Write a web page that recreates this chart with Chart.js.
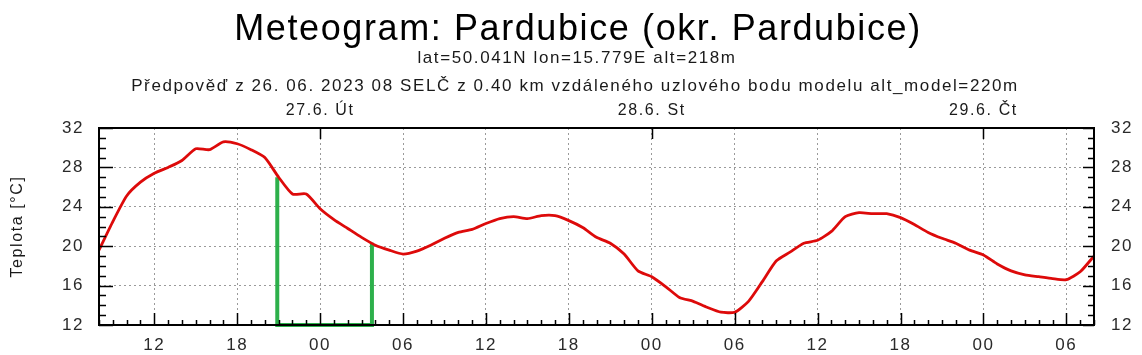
<!DOCTYPE html>
<html>
<head>
<meta charset="utf-8">
<script src="https://cdn.jsdelivr.net/npm/chart.js@4.4.0/dist/chart.umd.min.js"></script>
<style>
  html, body { margin: 0; padding: 0; background: #fff; }
  #wrap { width: 1142px; height: 355px; }
</style>
</head>
<body>
<div id="wrap"><canvas id="c" width="1142" height="355"></canvas></div>
<script>
// ---- DATA ----
// hours since 26.6.2023 08:00
const hours = [0,1,2,3,4,5,6,7,8,9,10,11,12,13,14,15,16,17,18,19,20,21,22,23,24,
  25,26,27,28,29,30,31,32,33,34,35,36,37,38,39,40,41,42,43,44,45,46,47,48,
  49,50,51,52,53,54,55,56,57,58,59,60,61,62,63,64,65,66,67,68,69,70,71,72];
const temps = [19.6,22.5,25.1,26.5,27.4,28.0,28.7,29.9,29.8,30.6,30.4,29.8,29.0,27.0,25.3,25.3,23.8,22.7,21.8,20.9,20.1,19.6,19.2,19.5,20.1,
  20.8,21.4,21.7,22.3,22.8,23.0,22.8,23.1,23.1,22.6,21.9,20.9,20.3,19.2,17.5,16.9,15.9,14.8,14.4,13.8,13.3,13.3,14.4,16.4,
  18.5,19.4,20.3,20.6,21.5,23.0,23.4,23.3,23.3,22.9,22.2,21.4,20.8,20.3,19.6,19.1,18.2,17.5,17.1,16.9,16.7,16.6,17.4,19.0];
// green bracket
const bracketX = [12.9, 12.9, 19.75, 19.75];
const bracketY = [27.0, 12, 12, 20.35];
// axes
const startHour = 8;
const hourTicks = [4,10,16,22,28,34,40,46,52,58,64,70];
const dayTicks = [16,40,64];
const dayLabels = ['27.6. Út','28.6. St','29.6. Čt'];
const yTicks = [12,16,20,24,28,32];
const titleText = 'Meteogram: Pardubice (okr. Pardubice)';
const subText1 = 'lat=50.041N lon=15.779E alt=218m';
const subText2 = 'Předpověď z 26. 06. 2023 08 SELČ z 0.40 km vzdáleného uzlového bodu modelu alt_model=220m';
const yTitle = 'Teplota [°C]';

const FONT = "'Liberation Sans', Arial, sans-serif";

const spacingPlugin = {
  id: 'spacing',
  beforeDraw(chart) { chart.ctx.letterSpacing = '1.6px'; }
};

const decoPlugin = {
  id: 'deco',
  afterDraw(chart) {
    const ctx = chart.ctx;
    const {left, right, top, bottom} = chart.chartArea;
    const xs = chart.scales.x, ys = chart.scales.y;
    ctx.save();
    ctx.strokeStyle = '#000';
    ctx.lineWidth = 1.5;
    ctx.beginPath();
    for (let h = 0; h <= 72; h++) {
      const px = Math.round(xs.getPixelForValue(h)) + 0.5;
      const len = hourTicks.includes(h) ? 12 : 5;
      ctx.moveTo(px, bottom); ctx.lineTo(px, bottom - len);
    }
    dayTicks.forEach(h => {
      const px = Math.round(xs.getPixelForValue(h)) + 0.5;
      ctx.moveTo(px, top); ctx.lineTo(px, top + 11);
    });
    for (let t = 12; t <= 32; t++) {
      const py = Math.round(ys.getPixelForValue(t)) + 0.5;
      const major = yTicks.includes(t);
      ctx.moveTo(left, py); ctx.lineTo(left + (major ? 14 : 7), py);
      ctx.moveTo(right, py); ctx.lineTo(right - (major ? 11 : 6), py);
    }
    ctx.stroke();
    ctx.lineWidth = 2;
    ctx.strokeRect(left, top, right - left, bottom - top);

    // texts
    ctx.letterSpacing = '1.6px';
    ctx.fillStyle = '#000';
    ctx.textAlign = 'center';
    ctx.textBaseline = 'alphabetic';
    ctx.font = '36px ' + FONT;
    ctx.fillText(titleText, 578, 39.5);
    ctx.fillStyle = '#1a1a1a';
    ctx.font = '17px ' + FONT;
    ctx.fillText(subText1, 577, 63);
    ctx.fillText(subText2, 575, 90.5);
    ctx.font = '16px ' + FONT;
    ctx.translate(21.5, (top + bottom) / 2);
    ctx.rotate(-Math.PI / 2);
    ctx.fillText(yTitle, 0, 0);
    ctx.restore();
  }
};

const tickFont = { family: FONT, size: 17 };

new Chart(document.getElementById('c'), {
  type: 'line',
  data: {
    datasets: [
      {
        data: hours.map((h, i) => ({x: h, y: temps[i]})),
        borderColor: '#dd0a0a', borderWidth: 2.8, pointRadius: 0, tension: 0.2,
        xAxisID: 'x', yAxisID: 'y'
      },
      {
        data: bracketX.map((x, i) => ({x: x, y: bracketY[i]})),
        borderColor: '#2db04b', borderWidth: 4, pointRadius: 0, tension: 0,
        clip: false, xAxisID: 'x', yAxisID: 'y'
      }
    ]
  },
  options: {
    responsive: false, animation: false,
    layout: { padding: { top: 100, left: 0, right: 0, bottom: 0 } },
    plugins: { legend: { display: false }, tooltip: { enabled: false } },
    scales: {
      x: {
        type: 'linear', position: 'bottom', min: 0, max: 72,
        afterBuildTicks: s => { s.ticks = hourTicks.map(v => ({value: v})); },
        afterFit: s => { s.height = 30; },
        ticks: {
          autoSkip: false, maxRotation: 0, padding: 10, color: '#2a2a2a', font: tickFont,
          callback: v => String((startHour + v) % 24).padStart(2, '0')
        },
        grid: { color: '#9a9a9a', lineWidth: 1, drawTicks: false },
        border: { display: false, dash: [2, 3] }
      },
      x2: {
        type: 'linear', position: 'top', min: 0, max: 72,
        afterBuildTicks: s => { s.ticks = dayTicks.map(v => ({value: v})); },
        afterFit: s => { s.height = 28; },
        ticks: {
          autoSkip: false, maxRotation: 0, padding: 8, color: '#1a1a1a',
          font: { family: FONT, size: 16 },
          callback: v => dayLabels[dayTicks.indexOf(v)]
        },
        grid: { display: false, drawTicks: false },
        border: { display: false }
      },
      y: {
        type: 'linear', position: 'left', min: 12, max: 32,
        afterBuildTicks: s => { s.ticks = yTicks.map(v => ({value: v})); },
        afterFit: s => { s.width = 99; },
        ticks: { padding: 15, color: '#2a2a2a', font: tickFont },
        grid: { color: (c) => (c.tick && (c.tick.value === 12 || c.tick.value === 32)) ? 'rgba(0,0,0,0)' : '#9a9a9a', lineWidth: 1, drawTicks: false },
        border: { display: false, dash: [2, 3] }
      },
      y2: {
        type: 'linear', position: 'right', min: 12, max: 32,
        afterBuildTicks: s => { s.ticks = yTicks.map(v => ({value: v})); },
        afterFit: s => { s.width = 48; },
        ticks: { padding: 17, color: '#2a2a2a', font: tickFont },
        grid: { drawOnChartArea: false, drawTicks: false },
        border: { display: false }
      }
    }
  },
  plugins: [spacingPlugin, decoPlugin]
});
</script>
</body>
</html>
